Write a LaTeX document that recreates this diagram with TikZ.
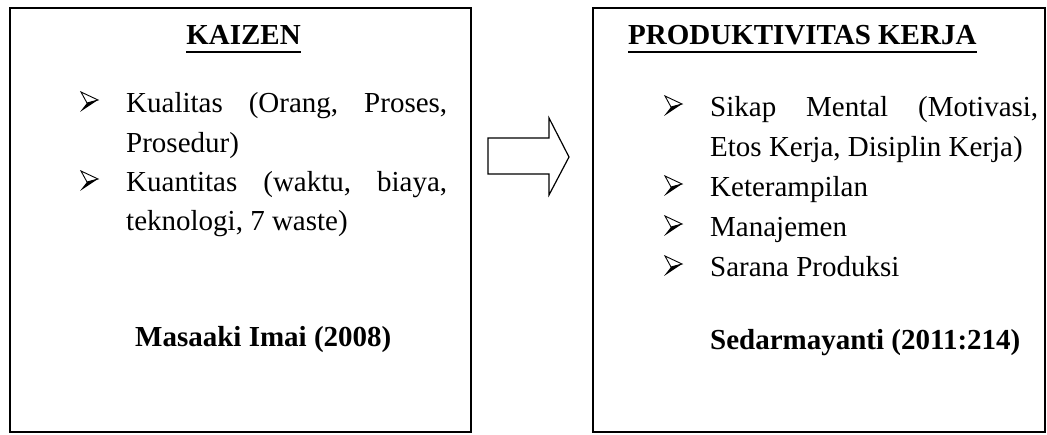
\documentclass[tikz,border=0pt]{standalone}
\usepackage{fontspec}
\setmainfont{Liberation Serif}
\begin{document}
\begin{tikzpicture}[x=1pt,y=-1pt,
  frame/.style={draw=black,line width=1.6pt},
  body/.style={anchor=base west,inner sep=0pt,font=\fontsize{29}{39}\selectfont},
  bold/.style={anchor=base west,inner sep=0pt,font=\fontsize{29}{39}\selectfont\bfseries},
  uline/.style={line width=2pt},
  blockarrow/.style={draw=black,line width=1.2pt,fill=white,line join=miter},
  arrbul/.pic={
    \fill[black,line join=miter] (7,-10) -- (18,-13) -- (0,-1) -- cycle;
    \draw[black,line width=0.9pt,line join=miter] (1,-21) -- (18,-13) -- (7,-10) -- cycle;
  }]
\useasboundingbox (0,0) rectangle (1047,435);
% boxes
\draw[frame] (10,8) rectangle (471,432);
\draw[frame] (593,8) rectangle (1045,432);
% left box
\node[bold,anchor=base] (t1) at (243.5,45) {KAIZEN};
\draw[uline] ([yshift=-7pt]t1.base west) -- ([yshift=-7pt]t1.base east);
\pic at (80,113) {arrbul};
\node[body] (l1) at (126,113) {\hbox to 321pt{Kualitas\hfill(Orang,\hfill Proses,}};
\node[body] (l2) at (126,153) {Prosedur)};
\pic at (80,192) {arrbul};
\node[body] (l3) at (126,192) {\hbox to 321pt{Kuantitas\hfill(waktu,\hfill biaya,}};
\node[body] (l4) at (126,231) {teknologi, 7 waste)};
\node[bold] (s1) at (135,347) {Masaaki Imai (2008)};
% arrow
\draw[blockarrow] (488,138) -- (549,138) -- (549,118) -- (569,157) -- (549,195) -- (549,174) -- (488,174) -- cycle;
% right box
\node[bold] (t2) at (628,45) {PRODUKTIVITAS KERJA};
\draw[uline] ([yshift=-7pt]t2.base west) -- ([yshift=-7pt]t2.base east);
\pic at (664,117) {arrbul};
\node[body] (r1) at (710,117) {\hbox to 328pt{Sikap\hfill Mental\hfill(Motivasi,}};
\node[body] (r2) at (710,157) {Etos Kerja, Disiplin Kerja)};
\pic at (664,197) {arrbul};
\node[body] (r3) at (710,197) {Keterampilan};
\pic at (664,237) {arrbul};
\node[body] (r4) at (710,237) {Manajemen};
\pic at (664,277) {arrbul};
\node[body] (r5) at (710,277) {Sarana Produksi};
\node[bold] (s2) at (710,350) {Sedarmayanti (2011:214)};
\end{tikzpicture}
\end{document}
